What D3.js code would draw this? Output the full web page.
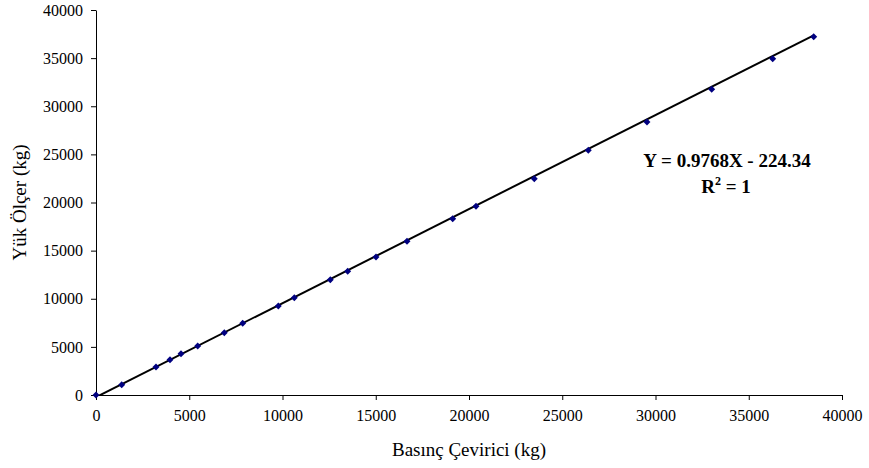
<!DOCTYPE html>
<html lang="tr">
<head>
<meta charset="UTF-8">
<title>Basınç Çevirici - Yük Ölçer</title>
<script src="https://d3js.org/d3.v7.min.js"></script>
<style>
    body { margin: 0; background: #fff; }
    svg text { font-family: "Liberation Serif", "Times New Roman", serif; fill: #000; }
    .axis text { font-size: 16px; }
    .axis path, .axis line { stroke: #000; }
</style>
</head>
<body>
<div id="chart"></div>
<script>
    // Basınç çevirici (x) ve yük ölçer (y) okumaları, kg
    const basinc = [0, 1378, 3217, 3968, 4558, 5453, 6879, 7866, 9775, 10633, 12563, 13496,
                    15013, 16676, 19126, 20375, 23501, 26397, 29544, 33013, 36284, 38483];
    const yuk = [0, 1070, 2909, 3668, 4291, 5091, 6473, 7449, 9247, 10109, 11979, 12852,
                 14338, 15969, 18317, 19605, 22473, 25423, 28364, 31761, 34940, 37226];
    const xTicks = [0, 5000, 10000, 15000, 20000, 25000, 30000, 35000, 40000];
    const yTicks = [0, 5000, 10000, 15000, 20000, 25000, 30000, 35000, 40000];
    const egim = 0.9768;
    const kesim = -224.34;

    const data = basinc.map((b, i) => ({ x: b, y: yuk[i] }));

    const width = 869, height = 468;
    const margin = { top: 10, right: 27, bottom: 73, left: 96 };
    const w = width - margin.left - margin.right;
    const h = height - margin.top - margin.bottom;

    const svg = d3.select('#chart').append('svg')
        .attr('width', width)
        .attr('height', height);

    const g = svg.append('g')
        .attr('transform', `translate(${margin.left},${margin.top})`);

    const x = d3.scaleLinear().domain([0, 40000]).range([0, w]);
    const y = d3.scaleLinear().domain([0, 40000]).range([h, 0]);

    g.append('clipPath').attr('id', 'clip')
        .append('rect').attr('width', w).attr('height', h);

    // axes
    g.append('g')
        .attr('class', 'axis')
        .attr('transform', `translate(0,${h})`)
        .call(d3.axisBottom(x).tickValues(xTicks).tickSize(5).tickSizeOuter(0).tickPadding(10).tickFormat(d3.format('d')));

    g.append('g')
        .attr('class', 'axis')
        .call(d3.axisLeft(y).tickValues(yTicks).tickSize(5).tickSizeOuter(0).tickPadding(8).tickFormat(d3.format('d')));

    // trendline
    const xMax = d3.max(basinc);
    g.append('line')
        .attr('clip-path', 'url(#clip)')
        .attr('x1', x(0)).attr('y1', y(egim * 0 + kesim))
        .attr('x2', x(xMax)).attr('y2', y(egim * xMax + kesim))
        .attr('stroke', '#000')
        .attr('stroke-width', 2);

    // points (small diamonds)
    const sym = d3.symbol().type(d3.symbolSquare).size(24);
    g.selectAll('.pt')
        .data(data)
        .enter()
        .append('path')
        .attr('class', 'pt')
        .attr('d', sym)
        .attr('transform', d => `translate(${x(d.x)},${y(d.y)}) rotate(45)`)
        .attr('fill', '#000080');

    // equation
    g.append('text')
        .attr('x', 631).attr('y', 157)
        .attr('text-anchor', 'middle')
        .style('font-size', '19px')
        .style('font-weight', 'bold')
        .text(`Y = ${egim}X - ${Math.abs(kesim)}`);

    const r2 = g.append('text')
        .attr('x', 630).attr('y', 183)
        .attr('text-anchor', 'middle')
        .style('font-size', '19px')
        .style('font-weight', 'bold');
    r2.append('tspan').text('R');
    r2.append('tspan').attr('dy', -8).style('font-size', '12px').text('2');
    r2.append('tspan').attr('dy', 8).text(' = 1');

    // axis labels
    svg.append('text')
        .attr('x', 469)
        .attr('y', 456)
        .attr('text-anchor', 'middle')
        .style('font-size', '19px')
        .text('Basınç Çevirici (kg)');

    svg.append('text')
        .attr('transform', `translate(26,${margin.top + h / 2}) rotate(-90)`)
        .attr('text-anchor', 'middle')
        .style('font-size', '19px')
        .text('Yük Ölçer (kg)');
</script>
</body>
</html>
